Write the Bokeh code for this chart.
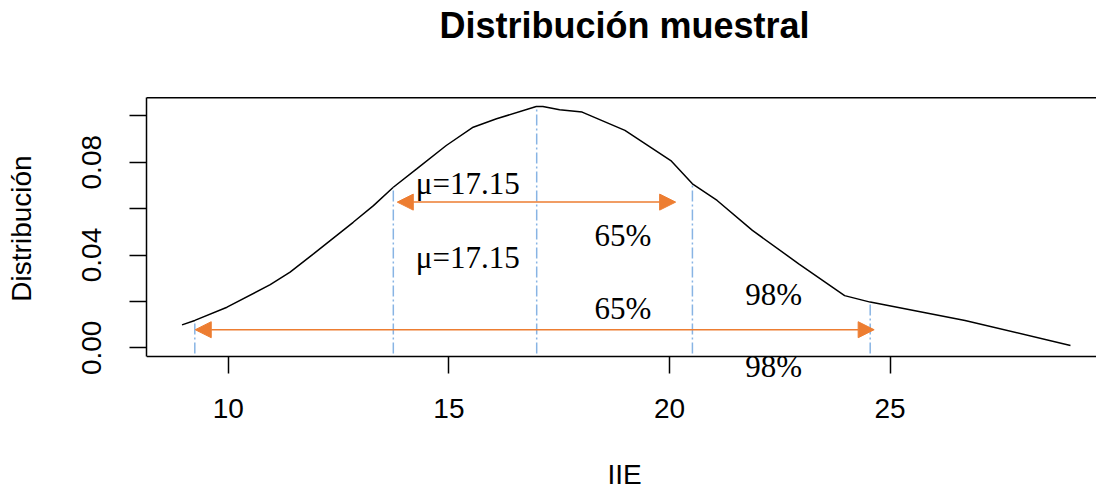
from bokeh.plotting import figure
from bokeh.models import (Range1d, FixedTicker, Arrow, NormalHead, Span,
                          ColumnDataSource, Label, Title)
from bokeh.embed import file_html
from bokeh.resources import INLINE

# ---- data ----
curve_x = [8.95, 9.24, 9.97, 10.95, 11.40, 11.93, 12.83, 13.29, 13.74, 14.27, 14.94,
           15.55, 16.08, 16.98, 17.13, 17.51, 18.02, 18.99, 20.03, 20.52, 21.08,
           21.88, 22.93, 23.97, 24.55, 26.70, 29.09]
curve_y = [0.0099, 0.0118, 0.0175, 0.0272, 0.0326, 0.0405, 0.0541, 0.0613, 0.0692,
           0.0771, 0.0872, 0.0951, 0.0987, 0.1040, 0.1040, 0.1026, 0.1016, 0.0937,
           0.0807, 0.0707, 0.0635, 0.0506, 0.0362, 0.0225, 0.0197, 0.0118, 0.0010]

vline_x = [9.24, 13.74, 16.99, 20.52, 24.55]
vline_top = [0.0118, 0.0692, 0.1040, 0.0707, 0.0197]

arrow_x0 = [13.83, 9.25]
arrow_x1 = [20.14, 24.64]
arrow_y = [0.0628, 0.0078]

label_text = ["μ=17.15", "μ=17.15", "65%", "65%", "98%", "98%"]
label_x = [14.25, 14.25, 18.30, 18.30, 21.72, 21.72]
label_y = [0.0708, 0.0388, 0.0483, 0.0170, 0.0230, -0.0080]

x_ticks = [10, 15, 20, 25]
y_ticks = [0.0, 0.02, 0.04, 0.06, 0.08, 0.10]
y_tick_labels = ["0.00", "", "0.04", "", "0.08", ""]

title_text = "Distribución muestral"
x_title = "IIE"
y_title = "Distribución"

# ---- layout constants ----
FONT = "Liberation Sans"
XR = (8.145, 29.68)          # visible x extent of the box
BOX_Y = (-0.0036, 0.1078)    # y extent of the plotting box
VIEW_Y = (-0.04685, 0.1497)  # drawing area (box + title + text under the axis)

p = figure(width=1096, height=492, output_backend="svg", toolbar_location=None,
           x_range=Range1d(*XR), y_range=Range1d(*VIEW_Y),
           min_border_left=146, min_border_right=0, min_border_top=0,
           min_border_bottom=36)
p.outline_line_color = None
p.grid.visible = False
p.background_fill_color = "white"
p.border_fill_color = "white"

for ax in (p.xaxis[0], p.yaxis[0]):
    ax.axis_line_color = "black"
    ax.axis_line_width = 1.5
    ax.major_tick_line_color = "black"
    ax.major_tick_line_width = 1.5
    ax.major_tick_out = 17
    ax.major_tick_in = 0
    ax.minor_tick_line_color = None
    ax.major_label_text_font = FONT
    ax.major_label_text_font_size = "28px"
    ax.major_label_text_color = "black"
    ax.axis_label_text_font = FONT
    ax.axis_label_text_font_size = "28px"
    ax.axis_label_text_font_style = "normal"
    ax.axis_label_text_color = "black"

p.xaxis.ticker = FixedTicker(ticks=x_ticks)
p.xaxis.major_label_standoff = 26
p.xaxis.fixed_location = BOX_Y[0]

p.yaxis.ticker = FixedTicker(ticks=y_ticks)
p.yaxis.bounds = BOX_Y
p.yaxis.major_label_overrides = dict(zip(y_ticks, y_tick_labels))
p.yaxis.major_label_orientation = "vertical"
p.yaxis.major_label_standoff = 28
p.yaxis.axis_label = y_title
p.yaxis.axis_label_standoff = 43

# x-axis title, in the panel under the drawing area
p.add_layout(Title(text=x_title, text_font=FONT, text_font_size="28px",
                   text_font_style="normal", text_color="black",
                   align="left", standoff=0, offset=461), "below")

# main title
p.add_layout(Label(x=18.98, y=0.1388, text=title_text, text_font=FONT,
                   text_font_size="36px", text_font_style="bold",
                   text_color="black", text_align="center",
                   text_baseline="alphabetic"))

# top border of the box
p.add_layout(Span(location=BOX_Y[1], dimension="width",
                  line_color="black", line_width=1.5))

# density curve
p.line(curve_x, curve_y, line_color="black", line_width=1.5)

# dashed vertical lines
base = -0.0025
p.segment(x0=vline_x, y0=[base] * len(vline_x), x1=vline_x, y1=vline_top,
          line_color="#88b4e4", line_width=1.5, line_dash="11 3 2 3")

# arrows
orange = "#ED7D31"
asrc = ColumnDataSource(dict(x0=arrow_x0, x1=arrow_x1, y=arrow_y))
p.add_layout(Arrow(x_start="x0", y_start="y", x_end="x1", y_end="y", source=asrc,
                   line_color=orange, line_width=1.5,
                   start=NormalHead(size=16, fill_color=orange, line_color=orange),
                   end=NormalHead(size=16, fill_color=orange, line_color=orange)))

# text labels
for t, lx, ly in zip(label_text, label_x, label_y):
    p.add_layout(Label(x=lx, y=ly, text=t, text_font="Liberation Serif",
                       text_font_size="31px", text_color="black",
                       text_align="left", text_baseline="alphabetic"))

open("out.html", "w").write(file_html(p, INLINE))
